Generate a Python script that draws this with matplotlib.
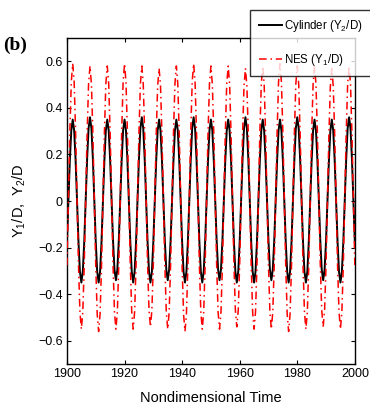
import numpy as np
import matplotlib
matplotlib.use("Agg")
import matplotlib.pyplot as plt
from matplotlib.lines import Line2D

# ---- data ----
time = np.arange(1900.0, 2000.01, 0.5)

cylinder_y2 = [
    -0.175, 0.0,
    0.175, 0.303, 0.35, 0.303, 0.175, 0.0, -0.175, -0.303, -0.35, -0.303, -0.175, 0.0,
    0.18, 0.312, 0.36, 0.312, 0.18, 0.0, -0.175, -0.303, -0.35, -0.303, -0.175, 0.0,
    0.175, 0.303, 0.35, 0.303, 0.175, 0.0, -0.17, -0.294, -0.34, -0.294, -0.17, 0.0,
    0.175, 0.303, 0.35, 0.303, 0.175, 0.0, -0.175, -0.303, -0.35, -0.303, -0.175, 0.0,
    0.18, 0.312, 0.36, 0.312, 0.18, 0.0, -0.175, -0.303, -0.35, -0.303, -0.175, 0.0,
    0.175, 0.303, 0.35, 0.303, 0.175, 0.0, -0.17, -0.294, -0.34, -0.294, -0.17, 0.0,
    0.175, 0.303, 0.35, 0.303, 0.175, 0.0, -0.175, -0.303, -0.35, -0.303, -0.175, 0.0,
    0.18, 0.312, 0.36, 0.312, 0.18, 0.0, -0.175, -0.303, -0.35, -0.303, -0.175, 0.0,
    0.175, 0.303, 0.35, 0.303, 0.175, 0.0, -0.17, -0.294, -0.34, -0.294, -0.17, 0.0,
    0.175, 0.303, 0.35, 0.303, 0.175, 0.0, -0.175, -0.303, -0.35, -0.303, -0.175, 0.0,
    0.18, 0.312, 0.36, 0.312, 0.18, 0.0, -0.175, -0.303, -0.35, -0.303, -0.175, 0.0,
    0.175, 0.303, 0.35, 0.303, 0.175, 0.0, -0.17, -0.294, -0.34, -0.294, -0.17, 0.0,
    0.175, 0.303, 0.35, 0.303, 0.175, 0.0, -0.175, -0.303, -0.35, -0.303, -0.175, 0.0,
    0.18, 0.312, 0.36, 0.312, 0.18, 0.0, -0.175, -0.303, -0.35, -0.303, -0.175, 0.0,
    0.175, 0.303, 0.35, 0.303, 0.175, 0.0, -0.17, -0.294, -0.34, -0.294, -0.17, 0.0,
    0.175, 0.303, 0.35, 0.303, 0.175, 0.0, -0.175, -0.303, -0.35, -0.303, -0.175, 0.0,
    0.18, 0.312, 0.36, 0.312, 0.18, 0.0, -0.175,
]

nes_y1 = [
    -0.275, 0.0,
    0.295, 0.511, 0.59, 0.511, 0.295, 0.0, -0.275, -0.476, -0.55, -0.476, -0.275, 0.0,
    0.29, 0.502, 0.58, 0.502, 0.29, 0.0, -0.28, -0.485, -0.56, -0.485, -0.28, 0.0,
    0.29, 0.502, 0.58, 0.502, 0.29, 0.0, -0.275, -0.476, -0.55, -0.476, -0.275, 0.0,
    0.295, 0.511, 0.59, 0.511, 0.295, 0.0, -0.275, -0.476, -0.55, -0.476, -0.275, 0.0,
    0.29, 0.502, 0.58, 0.502, 0.29, 0.0, -0.27, -0.468, -0.54, -0.468, -0.27, 0.0,
    0.285, 0.494, 0.57, 0.494, 0.285, 0.0, -0.275, -0.476, -0.55, -0.476, -0.275, 0.0,
    0.29, 0.502, 0.58, 0.502, 0.29, 0.0, -0.28, -0.485, -0.56, -0.485, -0.28, 0.0,
    0.295, 0.511, 0.59, 0.511, 0.295, 0.0, -0.275, -0.476, -0.55, -0.476, -0.275, 0.0,
    0.29, 0.502, 0.58, 0.502, 0.29, 0.0, -0.275, -0.476, -0.55, -0.476, -0.275, 0.0,
    0.29, 0.502, 0.58, 0.502, 0.29, 0.0, -0.27, -0.468, -0.54, -0.468, -0.27, 0.0,
    0.285, 0.494, 0.57, 0.494, 0.285, 0.0, -0.275, -0.476, -0.55, -0.476, -0.275, 0.0,
    0.29, 0.502, 0.58, 0.502, 0.29, 0.0, -0.275, -0.476, -0.55, -0.476, -0.275, 0.0,
    0.295, 0.511, 0.59, 0.511, 0.295, 0.0, -0.28, -0.485, -0.56, -0.485, -0.28, 0.0,
    0.29, 0.502, 0.58, 0.502, 0.29, 0.0, -0.275, -0.476, -0.55, -0.476, -0.275, 0.0,
    0.29, 0.502, 0.58, 0.502, 0.29, 0.0, -0.27, -0.468, -0.54, -0.468, -0.27, 0.0,
    0.285, 0.494, 0.57, 0.494, 0.285, 0.0, -0.275, -0.476, -0.55, -0.476, -0.275, 0.0,
    0.29, 0.502, 0.58, 0.502, 0.29, 0.0, -0.275,
]

x_ticks = [1900, 1920, 1940, 1960, 1980, 2000]
y_ticks = [-0.6, -0.4, -0.2, 0, 0.2, 0.4, 0.6]
y_tick_labels = ["\u22120.6", "\u22120.4", "\u22120.2", "0", "0.2", "0.4", "0.6"]

legend_labels = ["Cylinder (Y$_2$/D)", "NES (Y$_1$/D)"]

# ---- figure ----
plt.rcParams["font.family"] = ["Liberation Sans", "DejaVu Sans"]
plt.rcParams["mathtext.fontset"] = "custom"
plt.rcParams["mathtext.rm"] = "Liberation Sans"
plt.rcParams["mathtext.it"] = "Liberation Sans"

fig = plt.figure(figsize=(3.70, 4.18), dpi=100)
ax = fig.add_axes([0.181, 0.129, 0.778, 0.780])

dashdot = (0, (5, 2.5, 1, 2.5))
ax.plot(time, cylinder_y2, color="black", lw=1.4, zorder=2)
ax.plot(time, nes_y1, color="#ff0000", lw=1.1, linestyle=dashdot, zorder=3)

ax.set_xlim(1900, 2000)
ax.set_ylim(-0.7, 0.7)
ax.set_xticks(x_ticks)
ax.set_yticks(y_ticks)
ax.set_yticklabels(y_tick_labels)
ax.tick_params(direction="in", length=3, width=0.8, top=True, right=True,
               labelsize=9, pad=3)
for s in ax.spines.values():
    s.set_linewidth(1.0)

ax.set_xlabel("Nondimensional Time", fontsize=10.5, labelpad=8)
ax.set_ylabel("Y$_1$/D,  Y$_2$/D", fontsize=10.5, labelpad=7)

fig.text(0.008, 0.892, "(b)", fontsize=14, fontweight="bold",
         family=["Liberation Serif", "DejaVu Serif"], va="center", ha="left")

handles = [Line2D([], [], color="black", lw=1.4),
           Line2D([], [], color="#ff0000", lw=1.1, linestyle=dashdot)]
leg = fig.legend(handles, legend_labels, loc="upper left",
                 bbox_to_anchor=(0.677, 0.977), fontsize=8.3,
                 frameon=True, fancybox=False, edgecolor="black",
                 handlelength=2.0, handletextpad=0.25, borderpad=0.7,
                 labelspacing=1.55, borderaxespad=0)
leg.get_frame().set_linewidth(1.0)

fig.savefig("out.png", dpi=100)
